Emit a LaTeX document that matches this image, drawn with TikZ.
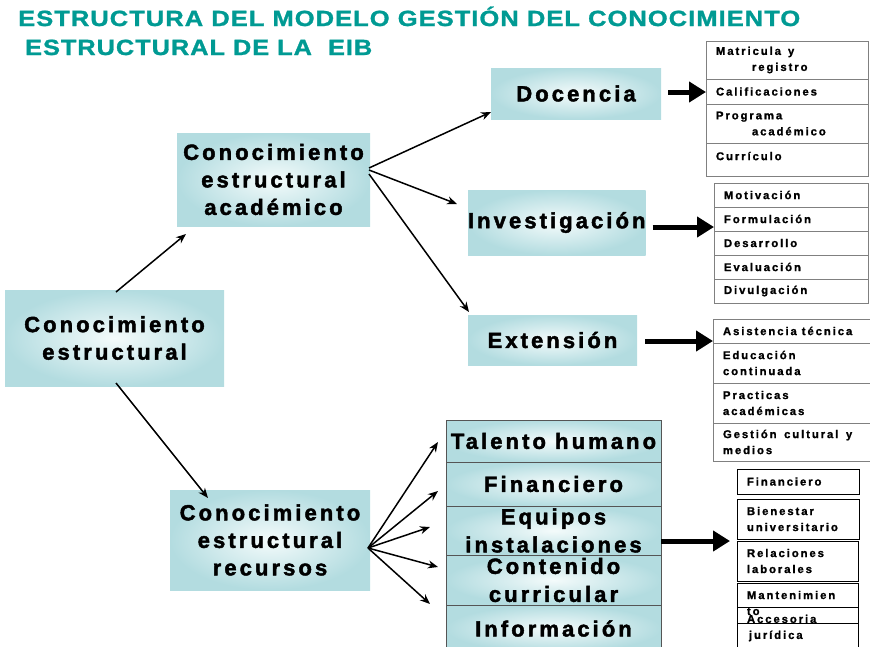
\documentclass[tikz,border=0pt]{standalone}
\usepackage{fontspec}
\usepackage{graphicx}
\setmainfont{Liberation Sans}
\newfontfamily\titlef{Liberation Sans}[UprightFont={Liberation Sans Bold},BoldFont={Liberation Sans Bold},LetterSpace=4,FakeBold=1.2]
\newfontfamily\bigf{Liberation Sans}[UprightFont={Liberation Sans Bold},BoldFont={Liberation Sans Bold},LetterSpace=14,FakeBold=2]
\newfontfamily\smallf{Liberation Sans}[UprightFont={Liberation Sans Bold},BoldFont={Liberation Sans Bold},LetterSpace=17,FakeBold=1.2]
\usetikzlibrary{arrows.meta,calc}
\definecolor{titlec}{HTML}{009A93}
\definecolor{boxe}{HTML}{B3DCE0}
\definecolor{boxc}{HTML}{F4FBFB}
\definecolor{rowline}{HTML}{808080}
\definecolor{stackline}{HTML}{555555}
\hyphenpenalty=10000
\exhyphenpenalty=10000
\begin{document}
\begin{tikzpicture}[x=1pt,y=-1pt,
 bigbox/.style={rectangle,anchor=north west,inner sep=0pt,outer sep=0pt,shade,shading=radial,inner color=boxc,outer color=boxe,align=center,font=\bigf\fontsize{22}{27.5}\selectfont},
 stackbox/.style={bigbox,draw=stackline,line width=0.8pt,font=\bigf\fontsize{22}{28}\selectfont},
 rowbox/.style={rectangle,anchor=north west,draw=rowline,line width=0.8pt,inner xsep=10pt,inner ysep=0pt,outer sep=0pt,align=left,font=\smallf\fontsize{11.3}{16}\selectfont},
 recbox/.style={rowbox,draw=black},
 thinarrow/.style={line width=1.5pt,-{Stealth[length=10pt,width=8pt]}},
 thickarrow/.style={line width=5pt,-{Triangle[length=17pt,width=20pt]}},
 titletext/.style={anchor=base west,inner sep=0pt,text=titlec,font=\titlef\fontsize{22}{22}\selectfont}
]
\useasboundingbox (0,0) rectangle (870,646);
\clip (0,0) rectangle (870,646);

% title
\node[titletext] (t1) at (18,26) {\resizebox{782pt}{\height}{ESTRUCTURA DEL MODELO GESTIÓN DEL CONOCIMIENTO}};
\node[titletext] (t2) at (25,55) {\resizebox{347pt}{\height}{ESTRUCTURAL DE LA\ \ EIB}};

% main boxes
\node[bigbox,minimum width=219pt,minimum height=96pt] (ce) at (5,290) {Conocimiento\\estructural};
\node[bigbox,minimum width=193pt,minimum height=93pt] (acad) at (177,133) {Conocimiento\\estructural\\académico};
\node[bigbox,minimum width=200pt,minimum height=100pt] (rec) at (170,490) {Conocimiento\\estructural\\recursos};
\node[bigbox,minimum width=170pt,minimum height=51pt] (doc) at (491,68) {Docencia};
\node[bigbox,minimum width=177pt,minimum height=65pt] (inv) at (468,190) {Investigación};
\node[bigbox,minimum width=169pt,minimum height=50pt] (ext) at (468,315) {Extensión};

% resources stack
\node[stackbox,minimum width=215pt,minimum height=42pt] (tal) at (446,420) {Talento humano};
\node[stackbox,minimum width=215pt,minimum height=44pt] (fin) at (446,462) {Financiero};
\node[stackbox,minimum width=215pt,minimum height=49pt] (equ) at (446,506) {Equipos\\instalaciones};
\node[stackbox,minimum width=215pt,minimum height=50pt] (con) at (446,555) {Contenido\\curricular};
\node[stackbox,minimum width=215pt,minimum height=47pt] (info) at (446,605) {Información};

% Docencia list
\node[rowbox,minimum width=162pt,minimum height=38pt,text width=142pt] (mat) at (706,41) {Matricula\hspace{7pt}y\\\hspace*{36pt}registro};
\node[rowbox,minimum width=162pt,minimum height=25pt,text width=142pt] (cal) at (706,79) {Calificaciones};
\node[rowbox,minimum width=162pt,minimum height=39pt,text width=142pt] (prog) at (706,104) {Programa\\\hspace*{36pt}académico};
\node[rowbox,minimum width=162pt,minimum height=33pt,text width=142pt] (curr) at (706,143) {\raisebox{7pt}{Currículo}};

% Investigacion list
\node[rowbox,minimum width=154pt,minimum height=24pt,text width=134pt] (moti) at (714,183) {Motivación};
\node[rowbox,minimum width=154pt,minimum height=24pt,text width=134pt] (form) at (714,207) {Formulación};
\node[rowbox,minimum width=154pt,minimum height=24pt,text width=134pt] (desa) at (714,231) {Desarrollo};
\node[rowbox,minimum width=154pt,minimum height=24pt,text width=134pt] (eval) at (714,255) {Evaluación};
\node[rowbox,minimum width=154pt,minimum height=24pt,text width=134pt] (divu) at (714,279) {Divulgación};

% Extension list
\node[rowbox,minimum width=160pt,minimum height=24pt,text width=140pt] (asis) at (713,319) {Asistencia\hspace{5pt}técnica};
\node[rowbox,minimum width=160pt,minimum height=40pt,text width=140pt] (educ) at (713,343) {Educación\\continuada};
\node[rowbox,minimum width=160pt,minimum height=40pt,text width=140pt] (prac) at (713,383) {Practicas\\académicas};
\node[rowbox,minimum width=160pt,minimum height=38pt,text width=140pt] (gest) at (713,423) {\makebox[140pt][s]{Gestión\ \ cultural\ \ y}\\medios};

% Recursos list
\node[recbox,minimum width=122pt,minimum height=25pt,text width=102pt] (rfin) at (737,469) {Financiero};
\node[recbox,minimum width=122pt,minimum height=40pt,text width=102pt] (bien) at (737,499) {Bienestar\\universitario};
\node[recbox,minimum width=121pt,minimum height=40pt,text width=101pt] (rel) at (737,541) {Relaciones\\laborales};
\node[recbox,minimum width=121pt,minimum height=40pt,text width=101pt] (mant) at (737,583) {Mantenimien\\to};
\node[recbox,minimum width=121pt,minimum height=42pt,text width=101pt] (acc) at (737,607) {Accesoria\\\hspace*{2pt}jurídica};

% thin arrows
\draw[thinarrow] ($(ce.north)+(1.5,2)$) -- ($(acad.south west)+(9,8)$);
\draw[thinarrow] ($(ce.south)+(1.5,-3)$) -- ($(rec.north west)+(38,8)$);
\draw[thinarrow] ($(acad.east)+(-1,-11.5)$) -- ($(doc.south west)+(0,-7)$);
\draw[thinarrow] ($(acad.east)+(-1,-9.5)$) -- ($(inv.north west)+(-11,14)$);
\draw[thinarrow] ($(acad.east)+(-1,-5.5)$) -- ($(ext.north west)+(1,-3)$);
\coordinate (rO) at ($(rec.east)+(-2,8)$);
\draw[thinarrow] (rO) -- ($(tal.west)+(-8,1)$);
\draw[thinarrow] (rO) -- ($(fin.west)+(-8,7)$);
\draw[thinarrow] (rO) -- ($(equ.west)+(-16,-3.5)$);
\draw[thinarrow] (rO) -- ($(con.west)+(-8,-13)$);
\draw[thinarrow] (rO) -- ($(info.north west)+(-16,-1)$);

% thick arrows
\coordinate (dA) at ($(doc.east)+(7,-1.5)$);
\draw[thickarrow] (dA) -- (dA -| cal.west);
\coordinate (iA) at ($(inv.east)+(7,4.5)$);
\draw[thickarrow] (iA) -- (iA -| form.west);
\coordinate (eA) at ($(ext.east)+(8,1)$);
\draw[thickarrow] (eA) -- (eA -| asis.west);
\coordinate (qA) at ($(equ.east)+(0,10.5)$);
\path (qA -| rel.west) coordinate (qC);
\draw[thickarrow] (qA) -- ($(qC)+(-7,0)$);
\end{tikzpicture}
\end{document}
